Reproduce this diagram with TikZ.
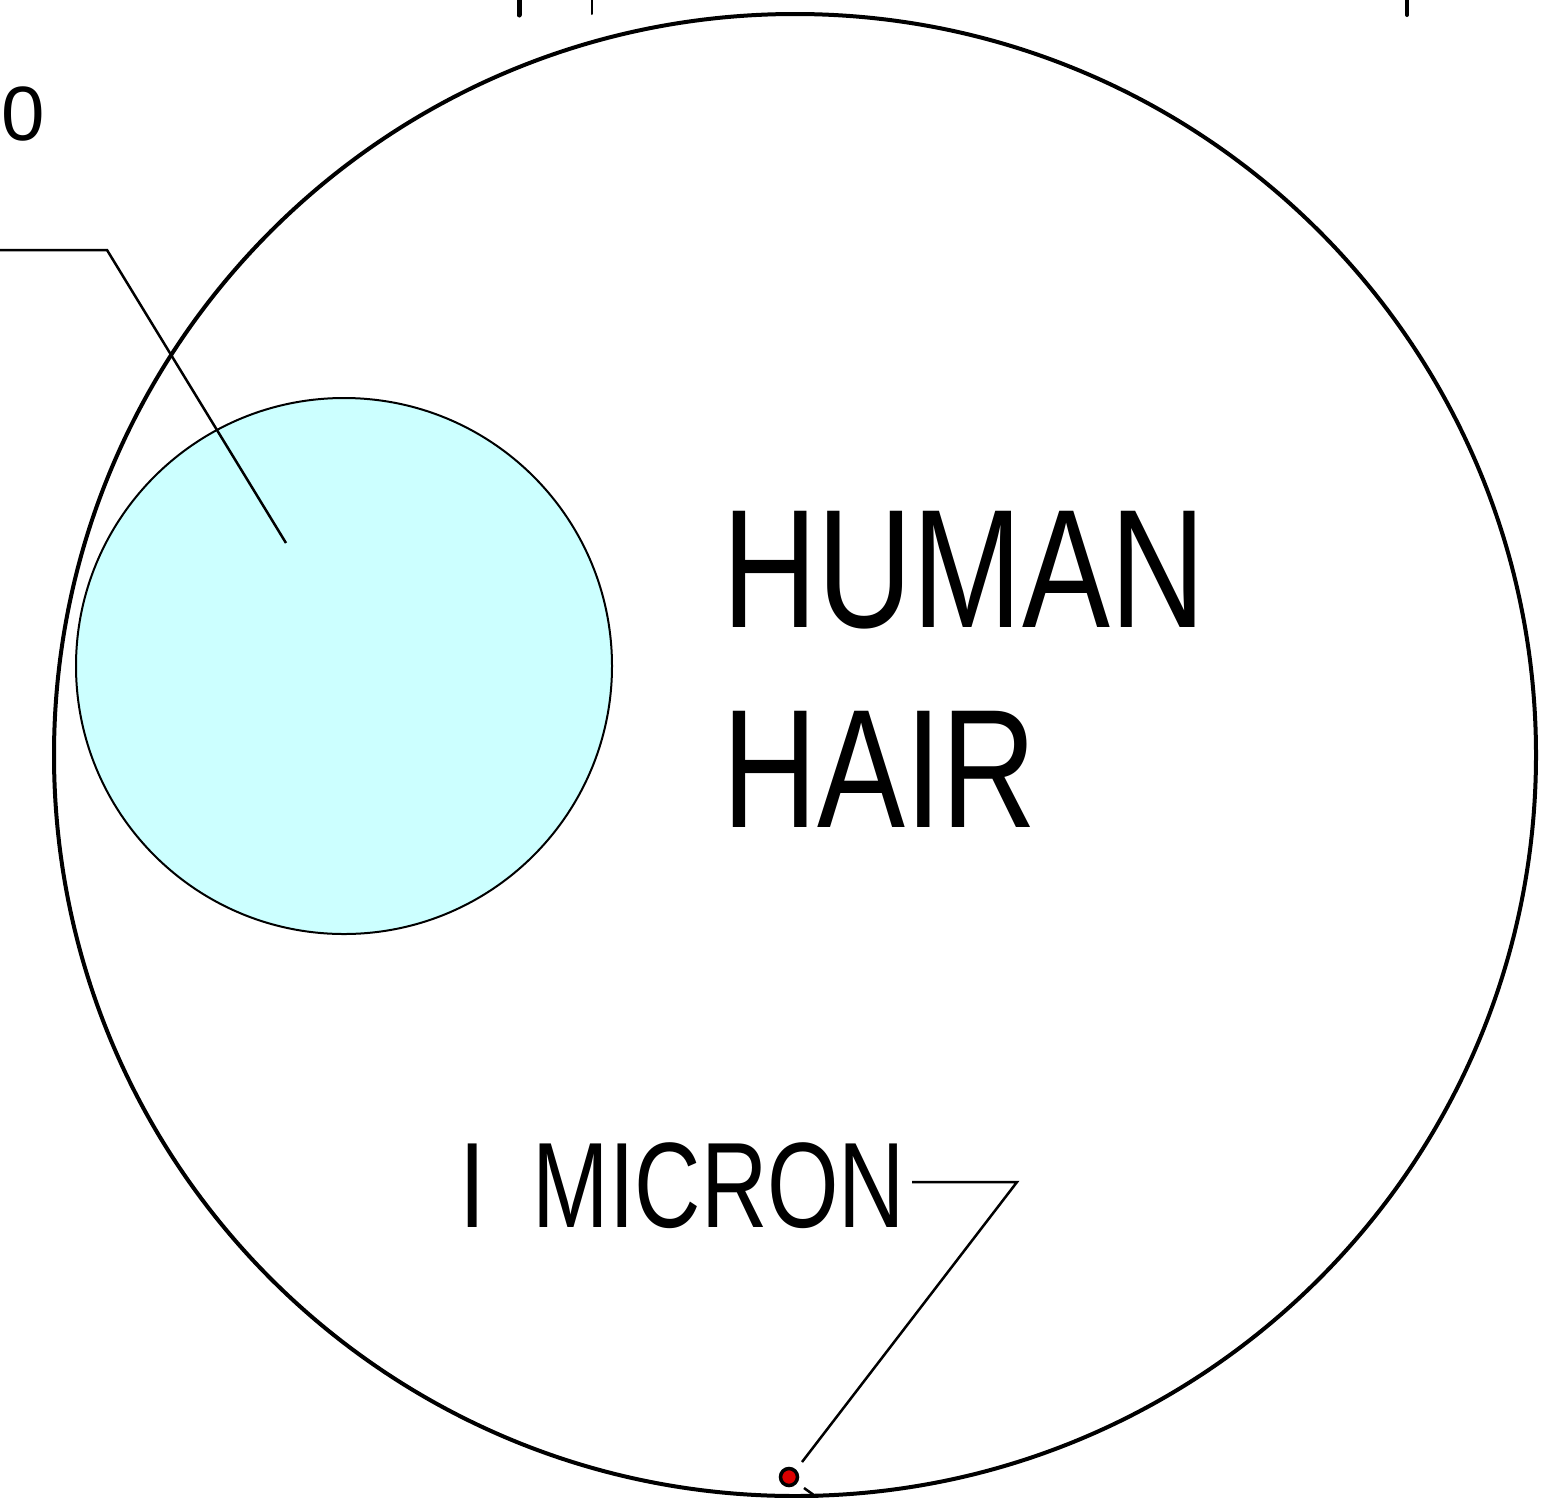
\documentclass[tikz,border=0pt]{standalone}
\usepackage{fontspec}
\setmainfont{Liberation Sans}[FakeStretch=0.78]
\definecolor{hairfill}{HTML}{CCFFFF}
\definecolor{dotred}{HTML}{DD0000}
\begin{document}
\begin{tikzpicture}[x=1pt,y=-1pt,
  bigring/.style={draw=black,line width=4pt,circle,inner sep=0pt,minimum size=1482pt},
  cell/.style={draw=black,line width=2pt,fill=hairfill,circle,inner sep=0pt,minimum size=536pt},
  leader/.style={draw=black,line width=2.5pt,line join=miter},
  label/.style={inner sep=0pt,anchor=base west},
  tick/.style={draw=black,line cap=round}]
\useasboundingbox (0,0) rectangle (1568,1497);
\node[bigring] (hair) at (795,755) {};
\node[cell] (blob) at (344,666) {};
% top ticks
\coordinate (t1a) at (519,0); \coordinate (t1b) at (519,15);
\coordinate (t2a) at (592,0); \coordinate (t2b) at (592,14);
\coordinate (t3a) at (1407,0); \coordinate (t3b) at (1407,15);
\draw[tick,line width=5pt] (t1a) -- (t1b);
\draw[tick,line width=2pt] (t2a) -- (t2b);
\draw[tick,line width=4pt] (t3a) -- (t3b);
% labels
\node[label,font=\fontsize{77}{77}\selectfont] (zero) at (1,140) {\scalebox{1.3}[1]{0}};
\node[label,font=\fontsize{169}{169}\selectfont] (human) at (722,627) {HUMAN};
\node[label,font=\fontsize{169}{169}\selectfont] (hairtxt) at (722,827) {HAIR};
\node[label,font=\fontsize{121.5}{121.5}\selectfont] (micron) at (459,1227) {I\hspace{47pt}\scalebox{0.97}[1]{MICRON}};
% leader 1
\coordinate (l1a) at (0,250); \coordinate (l1b) at (107,250); \coordinate (l1c) at (286,543);
\draw[leader] (l1a) -- (l1b) -- (l1c);
% leader 2
\coordinate (l2a) at (912,1182); \coordinate (l2b) at (1017,1182); \coordinate (l2c) at (802,1462);
\draw[leader] (l2a) -- (l2b) -- (l2c);
% micron dot
\node[circle,draw=black,line width=3.5pt,fill=dotred,inner sep=0pt,minimum size=17pt] (dot) at (789,1477) {};
\coordinate (s1) at (804,1488); \coordinate (s2) at (818,1498);
\draw[leader] (s1) -- (s2);
\end{tikzpicture}
\end{document}
